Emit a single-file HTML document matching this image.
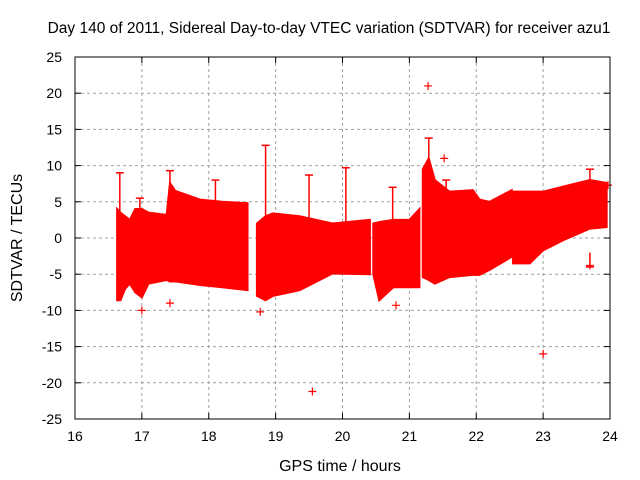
<!DOCTYPE html>
<html><head><meta charset="utf-8"><style>
body{margin:0;background:#fff;}
svg{display:block;font-family:"Liberation Sans",sans-serif;}
</style></head><body>
<svg id="c" width="640" height="480">
<text x="329" y="33" font-size="15.5" text-anchor="middle">Day 140 of 2011, Sidereal Day-to-day VTEC variation (SDTVAR) for receiver azu1</text>
<text x="340" y="471" font-size="16" text-anchor="middle">GPS time / hours</text>
<text transform="translate(22,238) rotate(-90)" font-size="16" text-anchor="middle">SDTVAR / TECUs</text>
<g id="grid"></g><g id="marks"></g>
<rect x="75" y="57" width="535" height="362" fill="none" stroke="#000"/>
</svg>
<script>
const xTicks=[16,17,18,19,20,21,22,23,24];
const yTicks=[-25,-20,-15,-10,-5,0,5,10,15,20,25];
const seg1T=[16.63,16.68,16.75,16.82,16.9,17.0,17.1,17.37,17.42,17.5,17.87,18.2,18.58];
const seg1Top=[4,3.5,3,2.5,4,4,3.5,3.2,7.6,6.5,5.3,5,4.8];
const seg1Bot=[-8.6,-8.6,-7,-6.3,-7.5,-8.2,-6.3,-5.8,-6,-6,-6.5,-6.8,-7.2];
const seg2T=[18.72,18.85,18.96,19.36,19.85,20.41];
const seg2Top=[2,3,3.4,3,2,2.5];
const seg2Bot=[-8,-8.6,-8,-7.2,-4.9,-5];
const seg3T=[20.46,20.55,20.76,21.0,21.15];
const seg3Top=[2,2.2,2.5,2.5,4];
const seg3Bot=[-5,-8.6,-6.8,-6.8,-6.8];
const seg4T=[21.2,21.29,21.38,21.6,21.95,22.05,22.2,22.53];
const seg4Top=[9.5,11,8,6.4,6.6,5.3,5,6.6];
const seg4Bot=[-5.4,-5.8,-6.3,-5.4,-5.1,-5.1,-4.4,-2.6];
const seg5T=[22.55,22.8,23.0,23.3,23.7,23.95];
const seg5Top=[6.4,6.4,6.4,7.1,8,7.6];
const seg5Bot=[-3.5,-3.5,-1.7,-0.3,1.3,1.5];
const spikeT=[16.67,16.97,17.42,18.1,18.85,19.5,20.05,20.75,21.29,21.55,23.7,23.7];
const spikeV=[9,5.5,9.3,8,12.8,8.7,9.7,7,13.8,8,9.5,-4];
const outT=[17.42,18.77,19.55,21.28,21.52,20.8,23.0,17.0,23.7,23.97];
const outV=[-9,-10.2,-21.2,21,11,-9.3,-16,-10,-3.8,7.3];
const X=h=>75+(h-16)*535/8, Y=v=>238-v*7.24;
const NS='http://www.w3.org/2000/svg', svg=document.getElementById('c');
const grid=document.getElementById('grid'), marks=document.getElementById('marks');
function mk(t,a,p){const e=document.createElementNS(NS,t);for(const k in a)e.setAttribute(k,a[k]);(p||svg).appendChild(e);return e;}
xTicks.forEach(t=>{const x=X(t);
 if(t>16&&t<24){const g=mk('line',{x1:x,x2:x,y1:57,y2:419,stroke:'#a0a0a0','stroke-dasharray':'3,3'},grid);
 
 }
 mk('line',{x1:x,x2:x,y1:419,y2:413,stroke:'#000'},grid);mk('line',{x1:x,x2:x,y1:57,y2:63,stroke:'#000'},grid);
 const l=mk('text',{x:x,y:441,'font-size':14,'text-anchor':'middle'});l.textContent=t;
 
 });
yTicks.forEach(t=>{const y=Y(t);
 if(t>-25&&t<25){const g=mk('line',{x1:75,x2:610,y1:y,y2:y,stroke:'#a0a0a0','stroke-dasharray':'3,3'},grid);
 
 }
 mk('line',{x1:75,x2:81,y1:y,y2:y,stroke:'#000'},grid);mk('line',{x1:610,x2:604,y1:y,y2:y,stroke:'#000'},grid);
 const l=mk('text',{x:62,y:y+5,'font-size':14,'text-anchor':'end'});l.textContent=t;
 
 });
[[seg1T,seg1Top,seg1Bot],[seg2T,seg2Top,seg2Bot],[seg3T,seg3Top,seg3Bot],[seg4T,seg4Top,seg4Bot],[seg5T,seg5Top,seg5Bot]].forEach((s,i)=>{
 const pts=s[0].map((t,j)=>X(t)+','+Y(s[1][j])).concat(s[0].map((t,j)=>X(t)+','+Y(s[2][j])).reverse());
 const p=mk('polygon',{points:pts.join(' '),fill:'#ff0000',stroke:'#ff0000','stroke-width':2},marks);
 
 });
spikeT.forEach((t,i)=>{const v=spikeV[i];const base=v>0?2:-2;
 const l=mk('line',{x1:X(t),x2:X(t),y1:Y(base),y2:Y(v),stroke:'#ff0000','stroke-width':1.5},marks);
 
 
 mk('line',{x1:X(t)-4,x2:X(t)+4,y1:Y(v),y2:Y(v),stroke:'#ff0000','stroke-width':1.5},marks);});
outT.forEach((t,i)=>{const x=X(t),y=Y(outV[i]);
 const p=mk('path',{d:`M${x-4},${y}H${x+4}M${x},${y-4}V${y+4}`,stroke:'#ff0000','stroke-width':1.2},marks);
 
 });
</script>
</body></html>
